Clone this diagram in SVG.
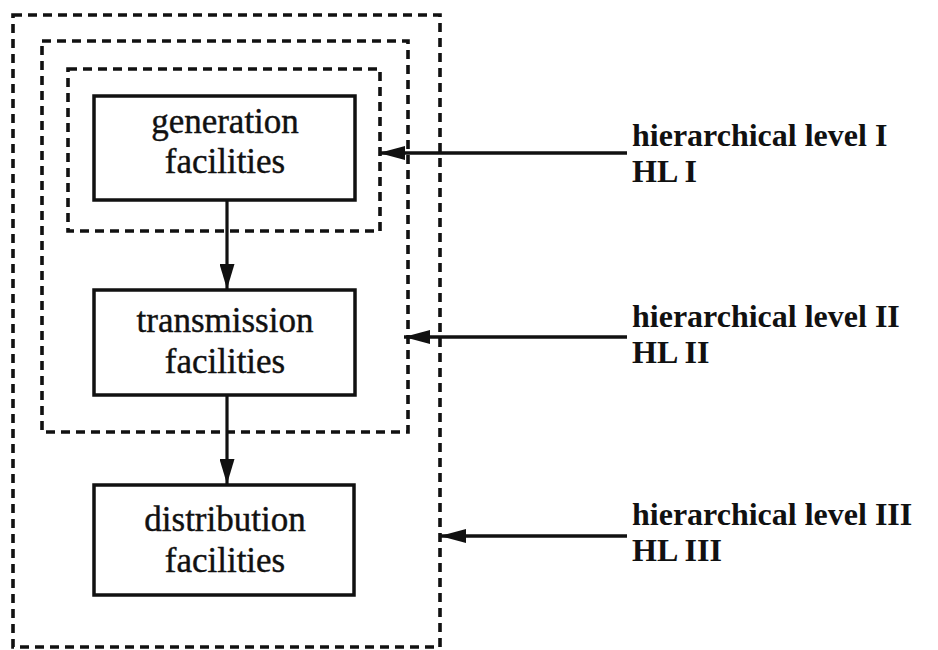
<svg xmlns="http://www.w3.org/2000/svg" width="938" height="650" viewBox="0 0 938 650">
  <style>
    .bg { fill: #ffffff; }
    .dash { fill: none; stroke: #111; stroke-width: 3.6; stroke-dasharray: 9 6; }
    .box { fill: #ffffff; stroke: #111; stroke-width: 3.5; }
    .btxt { font-family: "Liberation Serif", serif; font-size: 35px; fill: #111; text-anchor: middle; stroke: #111; stroke-width: 0.4; }
    .ltxt { font-family: "Liberation Serif", serif; font-size: 32px; font-weight: bold; fill: #111; }
    .conn { fill: none; stroke: #111; stroke-width: 3.2; }
    .hconn { fill: none; stroke: #111; stroke-width: 3.6; }
  </style>
  <defs>
    <marker id="ah" viewBox="0 0 26 14" refX="26" refY="7" markerWidth="26" markerHeight="14" markerUnits="userSpaceOnUse" orient="auto">
      <path d="M0,0 L26,7 L0,14 z" fill="#111"/>
    </marker>
    <marker id="av" viewBox="0 0 25 15" refX="25" refY="7.5" markerWidth="25" markerHeight="15" markerUnits="userSpaceOnUse" orient="auto">
      <path d="M0,0 L25,7.5 L0,15 z" fill="#111"/>
    </marker>
  </defs>
  <rect class="bg" x="0" y="0" width="938" height="650"/>

  <g id="level-boundaries">
    <rect id="hl3-boundary" class="dash" x="13" y="15" width="427" height="632"/>
    <rect id="hl2-boundary" class="dash" x="42" y="41" width="366" height="391"/>
    <rect id="hl1-boundary" class="dash" x="68" y="69" width="312" height="162"/>
  </g>

  <g id="connectors">
    <line class="conn" x1="227" y1="200" x2="227" y2="289" marker-end="url(#av)"/>
    <line class="conn" x1="227" y1="395" x2="227" y2="484" marker-end="url(#av)"/>
    <line class="hconn" x1="627" y1="153" x2="379" y2="153" marker-end="url(#ah)"/>
    <line class="hconn" x1="627" y1="337" x2="404" y2="337" marker-end="url(#ah)"/>
    <line class="hconn" x1="627" y1="536" x2="440" y2="536" marker-end="url(#ah)"/>
  </g>

  <g id="generation">
    <rect class="box" x="94" y="96" width="261" height="104"/>
    <text class="btxt" x="225" y="133">generation</text>
    <text class="btxt" x="225" y="173">facilities</text>
  </g>
  <g id="transmission">
    <rect class="box" x="94" y="290" width="261" height="105"/>
    <text class="btxt" x="225" y="332">transmission</text>
    <text class="btxt" x="225" y="373">facilities</text>
  </g>
  <g id="distribution">
    <rect class="box" x="94" y="485" width="260" height="110"/>
    <text class="btxt" x="225" y="531">distribution</text>
    <text class="btxt" x="225" y="572">facilities</text>
  </g>

  <g id="label-hl1">
    <text class="ltxt" x="632" y="146">hierarchical level I</text>
    <text class="ltxt" x="632" y="182">HL I</text>
  </g>
  <g id="label-hl2">
    <text class="ltxt" x="632" y="327">hierarchical level II</text>
    <text class="ltxt" x="632" y="363">HL II</text>
  </g>
  <g id="label-hl3">
    <text class="ltxt" x="632" y="525">hierarchical level III</text>
    <text class="ltxt" x="632" y="561">HL III</text>
  </g>
</svg>
